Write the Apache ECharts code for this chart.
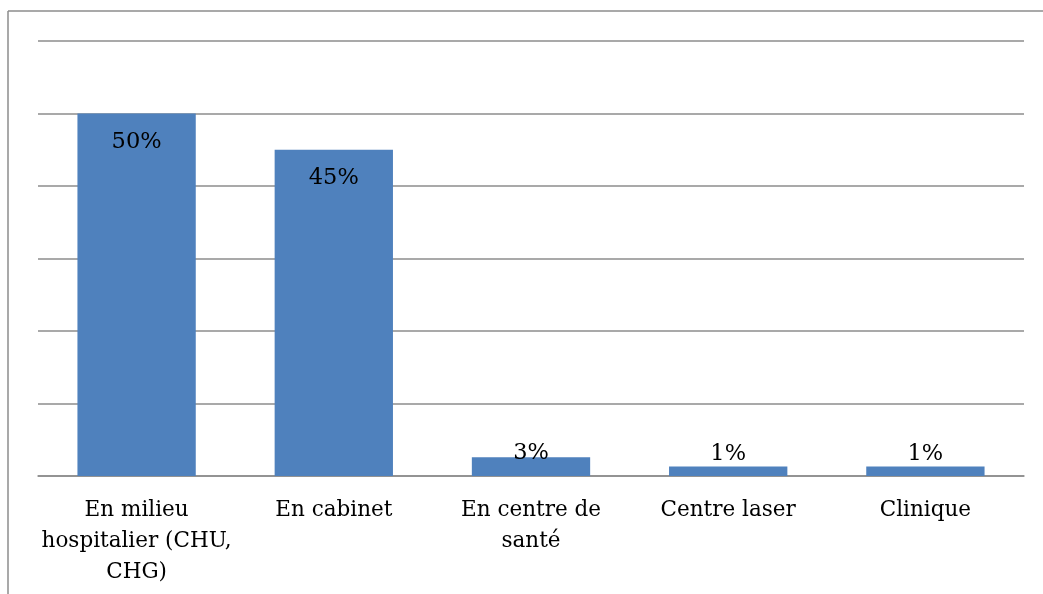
<!DOCTYPE html>
<html>
<head>
<meta charset="utf-8">
<script src="https://cdn.jsdelivr.net/npm/echarts@6/dist/echarts.min.js"></script>
<style>
  html, body { margin: 0; padding: 0; background: #fff; }
  #main { width: 1043px; height: 594px; }
</style>
</head>
<body>
<div id="main"></div>
<script>
var categories = ['En milieu\nhospitalier (CHU,\nCHG)', 'En cabinet', 'En centre de\nsanté', 'Centre laser', 'Clinique'];
var values = [50, 45, 2.6, 1.3, 1.3];
var labels = ['50%', '45%', '3%', '1%', '1%'];

var chart = echarts.init(document.getElementById('main'));

var font = 'DejaVu Serif';

var seriesData = values.map(function (v, i) {
  var big = v > 10;
  return {
    value: v,
    label: big
      ? { position: 'insideTop', distance: 17 }
      : { position: 'top', distance: v > 2 ? -8 : 1 }
  };
});

var option = {
  animation: false,
  grid: { left: 38, right: 19, top: 41, bottom: 118 },
  xAxis: {
    type: 'category',
    data: categories,
    axisTick: { show: false },
    axisLine: { lineStyle: { color: '#8c8c8c', width: 1.5 } },
    axisLabel: {
      color: '#000',
      fontFamily: font,
      fontSize: 21.5,
      lineHeight: 31,
      margin: 19,
      interval: 0
    }
  },
  yAxis: {
    type: 'value',
    min: 0,
    max: 60,
    interval: 10,
    axisLabel: { show: false },
    axisLine: { show: false },
    axisTick: { show: false },
    splitLine: { lineStyle: { color: '#8c8c8c', width: 1.5 } }
  },
  series: [{
    type: 'bar',
    data: seriesData,
    barWidth: '60%',
    itemStyle: { color: '#4f81bd' },
    label: {
      show: true,
      color: '#000',
      fontFamily: font,
      fontSize: 22.5,
      formatter: function (p) { return labels[p.dataIndex]; }
    }
  }],
  graphic: [
    { type: 'line', shape: { x1: 8, y1: 11, x2: 1043, y2: 11 }, style: { stroke: '#8c8c8c', lineWidth: 1.5 } },
    { type: 'line', shape: { x1: 8, y1: 11, x2: 8, y2: 594 }, style: { stroke: '#8c8c8c', lineWidth: 1.5 } }
  ]
};

chart.setOption(option);
</script>
</body>
</html>
